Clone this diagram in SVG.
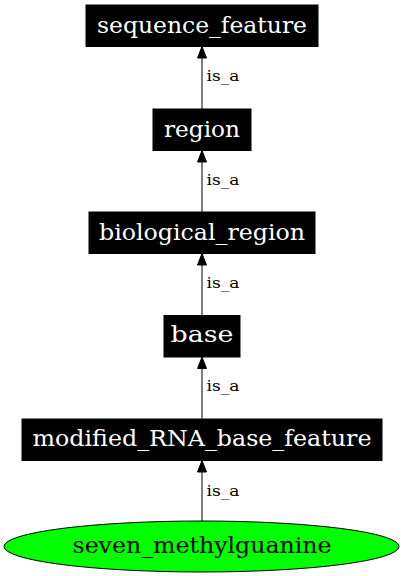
<svg xmlns="http://www.w3.org/2000/svg" width="404" height="576" viewBox="0 0 404 576">
<defs>
<style>
.box{fill:#000;stroke:#000}
.lbl{font-family:"DejaVu Serif",serif;font-size:22px;fill:#fff;text-anchor:middle}
.elbl{font-family:"DejaVu Serif",serif;font-size:15px;fill:#000}
.edge{stroke:#000;stroke-width:1;fill:none}
.head{fill:#000;stroke:#000}
</style>
</defs>
<rect width="404" height="576" fill="#fff"/>
<g id="connectors">
<g id="e1"><line class="edge" x1="202" y1="109" x2="202" y2="58"/><polygon class="head" points="202,46.5 197.5,58 206.5,58"/><text class="elbl" x="206.5" y="81" textLength="33" lengthAdjust="spacingAndGlyphs">is_a</text></g>
<g id="e2"><line class="edge" x1="202" y1="212" x2="202" y2="162"/><polygon class="head" points="202,150.5 197.5,162 206.5,162"/><text class="elbl" x="206.5" y="185" textLength="33" lengthAdjust="spacingAndGlyphs">is_a</text></g>
<g id="e3"><line class="edge" x1="202" y1="315.5" x2="202" y2="265"/><polygon class="head" points="202,253.5 197.5,265 206.5,265"/><text class="elbl" x="206.5" y="288" textLength="33" lengthAdjust="spacingAndGlyphs">is_a</text></g>
<g id="e4"><line class="edge" x1="202" y1="418.5" x2="202" y2="368.5"/><polygon class="head" points="202,357 197.5,368.5 206.5,368.5"/><text class="elbl" x="206.5" y="391" textLength="33" lengthAdjust="spacingAndGlyphs">is_a</text></g>
<g id="e5"><line class="edge" x1="202" y1="521" x2="202" y2="472"/><polygon class="head" points="202,460.5 197.5,472 206.5,472"/><text class="elbl" x="206.5" y="496" textLength="33" lengthAdjust="spacingAndGlyphs">is_a</text></g>
</g>
<g id="sequence_feature"><rect class="box" x="86" y="5" width="232" height="41.5"/><text class="lbl" x="202" y="32.5" textLength="210" lengthAdjust="spacingAndGlyphs">sequence_feature</text></g>
<g id="region"><rect class="box" x="153" y="109" width="98" height="41.5"/><text class="lbl" x="202" y="136.5" textLength="76" lengthAdjust="spacingAndGlyphs">region</text></g>
<g id="biological_region"><rect class="box" x="89" y="212" width="226" height="41.5"/><text class="lbl" x="202" y="239.5" textLength="206" lengthAdjust="spacingAndGlyphs">biological_region</text></g>
<g id="base"><rect class="box" x="164" y="315.5" width="76" height="41.5"/><text class="lbl" x="202" y="342" textLength="63" lengthAdjust="spacingAndGlyphs">base</text></g>
<g id="modified_RNA_base_feature"><rect class="box" x="22" y="419" width="360" height="41.5"/><text class="lbl" x="202" y="446" textLength="339" lengthAdjust="spacingAndGlyphs">modified_RNA_base_feature</text></g>
<g id="seven_methylguanine"><ellipse cx="201.5" cy="546.5" rx="197.5" ry="25.5" fill="#00ff00" stroke="#000"/><text x="202" y="553" textLength="259" lengthAdjust="spacingAndGlyphs" style="font-family:'DejaVu Serif',serif;font-size:22px;fill:#000;text-anchor:middle">seven_methylguanine</text></g>
</svg>
